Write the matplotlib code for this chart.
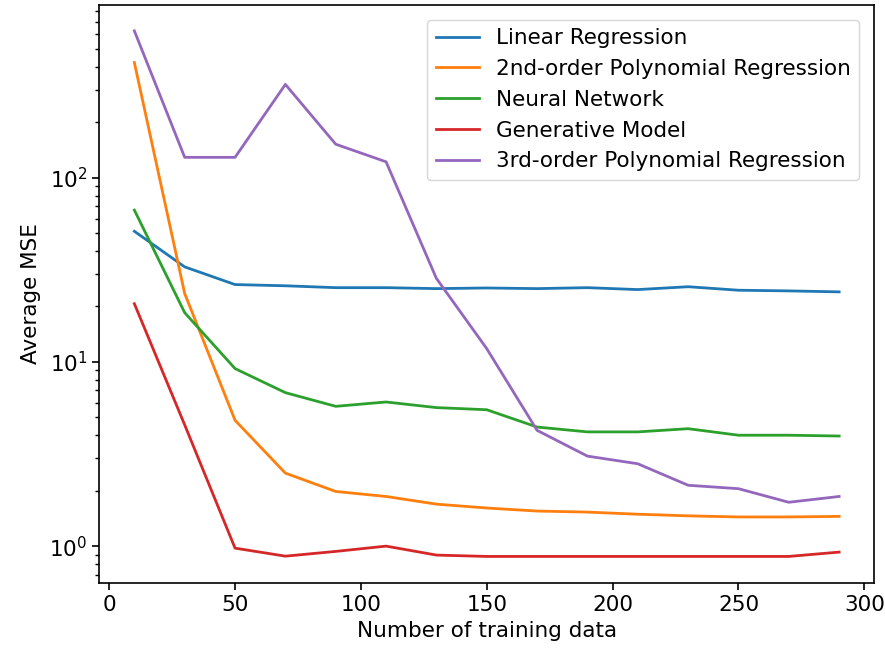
import matplotlib
matplotlib.use("Agg")
import matplotlib.pyplot as plt

n_train = [10, 30, 50, 70, 90, 110, 130, 150, 170, 190, 210, 230, 250, 270, 290]

linear_reg = [51.2, 32.8, 26.3, 25.9, 25.3, 25.3, 25.0, 25.2, 25.0, 25.3, 24.7, 25.6, 24.5, 24.3, 24.0]
poly2_reg = [422, 23.5, 4.82, 2.49, 1.98, 1.86, 1.69, 1.61, 1.55, 1.53, 1.49, 1.46, 1.44, 1.44, 1.45]
neural_net = [66.7, 18.5, 9.2, 6.81, 5.74, 6.06, 5.65, 5.50, 4.43, 4.17, 4.17, 4.34, 4.0, 4.0, 3.96]
generative = [20.7, 4.55, 0.975, 0.882, 0.936, 1.0, 0.894, 0.879, 0.879, 0.879, 0.879, 0.879, 0.879, 0.879, 0.928]
poly3_reg = [627, 129, 129, 321, 152, 122, 28.4, 11.8, 4.25, 3.08, 2.80, 2.14, 2.05, 1.73, 1.86]

series = [
    ("Linear Regression", linear_reg, "#1f77b4"),
    ("2nd-order Polynomial Regression", poly2_reg, "#ff7f0e"),
    ("Neural Network", neural_net, "#2ca02c"),
    ("Generative Model", generative, "#d62728"),
    ("3rd-order Polynomial Regression", poly3_reg, "#9467bd"),
]

fs = 15.5
fig = plt.figure(figsize=(8.85, 6.54), dpi=100)
ax = fig.add_axes([0.112, 0.109, 0.876, 0.884])
for label, vals, color in series:
    ax.plot(n_train, vals, color=color, lw=2.0, label=label)
ax.set_yscale("log")
ax.set_xlabel("Number of training data", fontsize=fs, labelpad=5)
ax.set_ylabel("Average MSE", fontsize=fs, labelpad=6)
ax.tick_params(labelsize=fs, width=1.2, length=5)
ax.tick_params(which="minor", width=1.0, length=3)
for s in ax.spines.values():
    s.set_linewidth(1.2)
ax.legend(loc="upper right", fontsize=fs, handlelength=2.0,
          borderaxespad=0.7)
fig.savefig("out.png", dpi=100)
